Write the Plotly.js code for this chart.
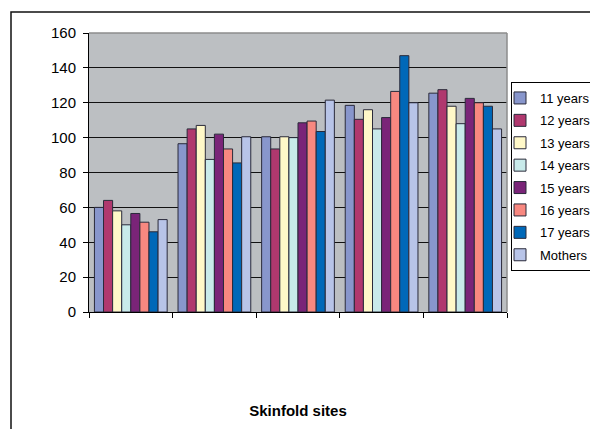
<!DOCTYPE html>
<html>
<head>
<meta charset="utf-8">
<script src="https://cdn.plot.ly/plotly-3.0.1.min.js"></script>
<style>html,body{margin:0;padding:0;background:#fff;overflow:hidden;width:590px;height:429px;}#chart{width:700px;height:429px;}</style>
</head>
<body>
<div id="chart"></div>
<script>
var sites = ["Site 1", "Site 2", "Site 3", "Site 4", "Site 5"];
var seriesNames = ["11 years", "12 years", "13 years", "14 years", "15 years", "16 years", "17 years", "Mothers"];
var y11 = [60, 96.5, 100.5, 118.5, 125.5];
var y12 = [64, 105, 93.5, 110.5, 127.5];
var y13 = [58, 107, 100.5, 116, 118];
var y14 = [50, 87.5, 100, 105, 108];
var y15 = [56.5, 102, 108.5, 111.5, 122.5];
var y16 = [51.5, 93.5, 109.5, 126.5, 120];
var y17 = [46, 85.5, 103.5, 147, 118];
var yMothers = [53, 100.5, 121.5, 120, 105];
var yTicks = [0, 20, 40, 60, 80, 100, 120, 140, 160];

var seriesValues = [y11, y12, y13, y14, y15, y16, y17, yMothers];
var colors = ["#8896cc", "#b0386e", "#fff8c8", "#c8eaea", "#7a2478", "#f88880", "#0068b8", "#b8c4e8"];

var traces = seriesNames.map(function (n, i) {
  return {
    type: "bar",
    name: n,
    legendgroup: "g" + i,
    x: sites,
    y: seriesValues[i],
    marker: {color: colors[i], line: {color: "#2a2a3a", width: 1}}
  };
});

var FONT = "Liberation Sans, Arial, sans-serif";
var layout = {
  width: 700,
  height: 429,
  margin: {l: 89, r: 193, t: 33, b: 117, pad: 0},
  paper_bgcolor: "#ffffff",
  plot_bgcolor: "#bcbfc2",
  barmode: "group",
  bargap: 0.13,
  bargroupgap: 0,
  font: {family: FONT, size: 15, color: "#000"},
  showlegend: true,
  legend: {
    x: (511 - 89) / 418, xanchor: "left", y: (312 - 82) / 279, yanchor: "top",
    bgcolor: "#ffffff", bordercolor: "#000", borderwidth: 1,
    font: {size: 13, family: FONT},
    indentation: -12,
    tracegroupgap: 2.5
  },
  xaxis: {
    type: "category",
    showticklabels: false,
    ticks: "outside", ticklen: 5, tickcolor: "#000", tickson: "boundaries",
    showline: true, linecolor: "#000", linewidth: 1,
    showgrid: false, zeroline: false,
    title: {text: "Skinfold sites", font: {size: 15, family: FONT, weight: "bold"}, standoff: 93}
  },
  yaxis: {
    range: [0, 160],
    tickvals: yTicks,
    ticks: "outside", ticklen: 5, tickcolor: "#000",
    ticklabelstandoff: 4,
    showline: true, linecolor: "#000", linewidth: 1,
    showgrid: true, gridcolor: "#111", gridwidth: 1,
    zeroline: false,
    tickfont: {size: 15}
  },
  shapes: [
    {
      type: "rect", xref: "paper", yref: "paper",
      x0: (11 - 89) / 418, x1: 3, y0: -3, y1: (312 - 12) / 279,
      line: {color: "#111", width: 1.5}, fillcolor: "rgba(0,0,0,0)", layer: "below"
    },
    {type: "line", xref: "paper", yref: "paper", x0: 0, x1: 1, y0: 1, y1: 1, line: {color: "#8c8c8c", width: 1.5}, layer: "above"},
    {type: "line", xref: "paper", yref: "paper", x0: 1, x1: 1, y0: 0, y1: 1, line: {color: "#8c8c8c", width: 1.5}, layer: "above"}
  ]
};

Plotly.newPlot("chart", traces, layout, {displayModeBar: false, staticPlot: true});
</script>
</body>
</html>
